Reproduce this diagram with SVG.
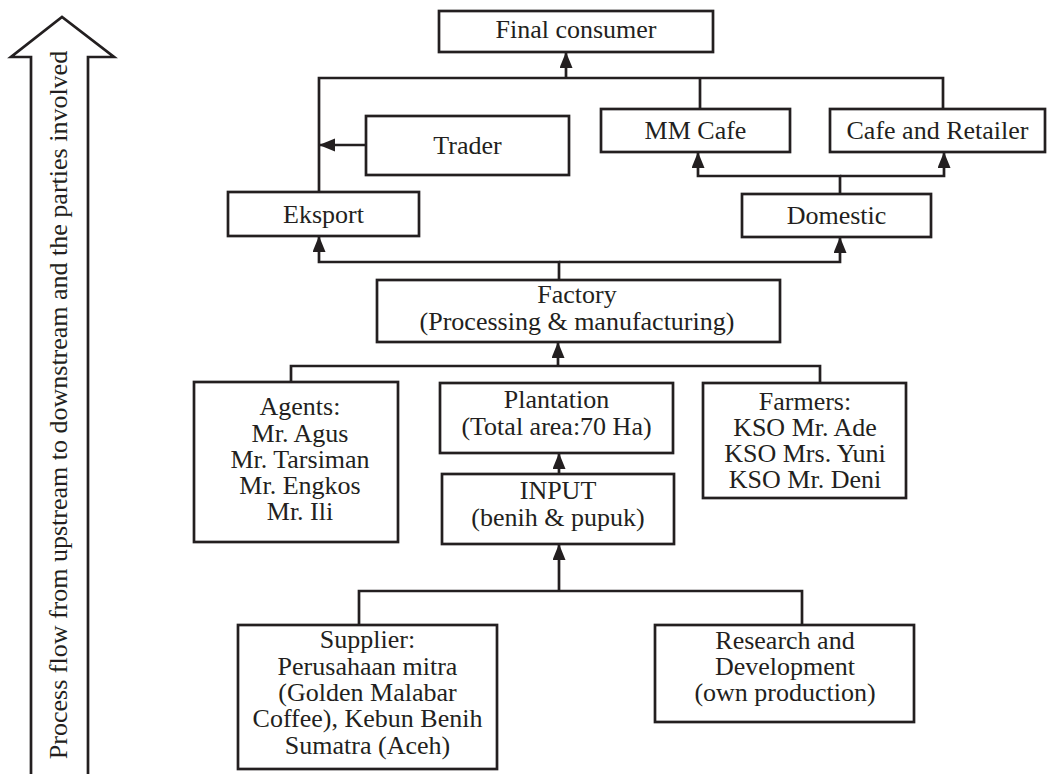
<svg xmlns="http://www.w3.org/2000/svg" width="1047" height="774" viewBox="0 0 1047 774">
<defs>
<style>
.box{fill:#fff;stroke:#231f20;stroke-width:2.7}
.ln{fill:none;stroke:#231f20;stroke-width:2.7}
.t{font-family:'Liberation Serif','DejaVu Serif',serif;font-size:26px;fill:#231f20;text-anchor:middle}
</style>
<marker id="ah" markerUnits="userSpaceOnUse" markerWidth="18" markerHeight="14" refX="16" refY="6.5" orient="auto">
<path d="M0,0 L16,6.5 L0,13 Z" fill="#231f20"/>
</marker>
</defs>
<rect width="1047" height="774" fill="#fff"/>

<g id="flow-arrow">
<path class="ln" d="M31,776 L31,57 L11,57 L62,17 L114,57 L88,57 L88,776"/>
<text class="t" font-family="Liberation Serif, DejaVu Serif, serif" transform="translate(67,405) rotate(-90)">Process flow from upstream to downstream and the parties involved</text>
</g>

<g id="connectors">
<path class="ln" d="M319,192 L319,78 L943,78 L943,109"/>
<path class="ln" d="M700,78 L700,109"/>
<path class="ln" d="M566,78 L566,52" marker-end="url(#ah)"/>
<path class="ln" d="M366,145 L319,145" marker-end="url(#ah)"/>
<path class="ln" d="M840,194 L840,176 L698,176 L698,152" marker-end="url(#ah)"/>
<path class="ln" d="M840,176 L944,176 L944,152" marker-end="url(#ah)"/>
<path class="ln" d="M559,280 L559,262 L319,262 L319,236" marker-end="url(#ah)"/>
<path class="ln" d="M559,262 L840,262 L840,237" marker-end="url(#ah)"/>
<path class="ln" d="M291,382 L291,366 L820,366 L820,383"/>
<path class="ln" d="M558,366 L558,342" marker-end="url(#ah)"/>
<path class="ln" d="M559,474 L559,453" marker-end="url(#ah)"/>
<path class="ln" d="M359,625 L359,591 L802,591 L802,625"/>
<path class="ln" d="M559,591 L559,544" marker-end="url(#ah)"/>
</g>

<g class="t" font-family="Liberation Serif, DejaVu Serif, serif">
<g id="final-consumer">
<rect class="box" x="439" y="11" width="274" height="41"/>
<text x="576" y="38">Final consumer</text>
</g>
<g id="trader">
<rect class="box" x="366" y="116" width="203" height="59"/>
<text x="467.5" y="154">Trader</text>
</g>
<g id="mm-cafe">
<rect class="box" x="601" y="109" width="189" height="43"/>
<text x="695.5" y="139">MM Cafe</text>
</g>
<g id="cafe-retailer">
<rect class="box" x="830" y="109" width="215" height="43"/>
<text x="937.5" y="139">Cafe and Retailer</text>
</g>
<g id="eksport">
<rect class="box" x="228" y="192" width="191" height="44"/>
<text x="323.5" y="223">Eksport</text>
</g>
<g id="domestic">
<rect class="box" x="742" y="194" width="189" height="43"/>
<text x="836.5" y="224">Domestic</text>
</g>
<g id="factory">
<rect class="box" x="377" y="280" width="403" height="62"/>
<text x="577" y="303">Factory</text>
<text x="577" y="330">(Processing &amp; manufacturing)</text>
</g>
<g id="agents">
<rect class="box" x="194" y="382" width="204" height="160"/>
<text x="300" y="415">Agents:</text>
<text x="300" y="442">Mr. Agus</text>
<text x="300" y="468">Mr. Tarsiman</text>
<text x="300" y="494">Mr. Engkos</text>
<text x="300" y="520">Mr. Ili</text>
</g>
<g id="plantation">
<rect class="box" x="440" y="383" width="233" height="70"/>
<text x="556.5" y="408">Plantation</text>
<text x="556.5" y="435">(Total area:70 Ha)</text>
</g>
<g id="farmers">
<rect class="box" x="703" y="383" width="203" height="115"/>
<text x="805" y="410">Farmers:</text>
<text x="805" y="436">KSO Mr. Ade</text>
<text x="805" y="462">KSO Mrs. Yuni</text>
<text x="805" y="488">KSO Mr. Deni</text>
</g>
<g id="input">
<rect class="box" x="442" y="474" width="232" height="70"/>
<text x="558" y="499">INPUT</text>
<text x="558" y="526">(benih &amp; pupuk)</text>
</g>
<g id="supplier">
<rect class="box" x="238" y="625" width="259" height="144"/>
<text x="367.5" y="648">Supplier:</text>
<text x="367.5" y="675">Perusahaan mitra</text>
<text x="367.5" y="701">(Golden Malabar</text>
<text x="367.5" y="727">Coffee), Kebun Benih</text>
<text x="367.5" y="754">Sumatra (Aceh)</text>
</g>
<g id="research">
<rect class="box" x="655" y="625" width="259" height="97"/>
<text x="785" y="649">Research and</text>
<text x="785" y="675">Development</text>
<text x="785" y="701">(own production)</text>
</g>
</g>
</svg>
